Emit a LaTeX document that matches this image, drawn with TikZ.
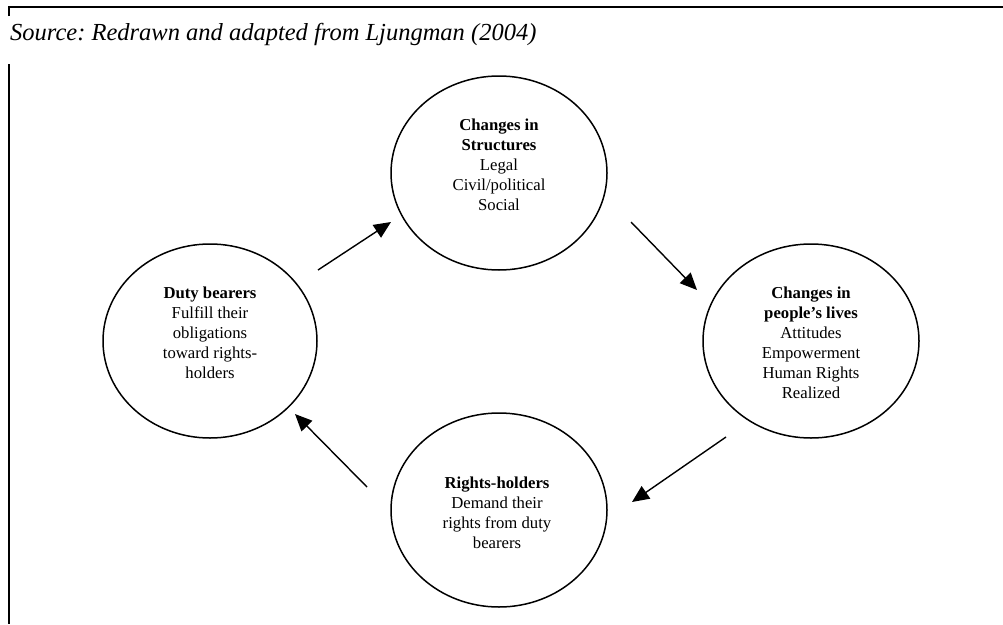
\documentclass[tikz,border=0pt]{standalone}
\usepackage{fontspec}
\setmainfont{Liberation Serif}
\usetikzlibrary{arrows.meta,shapes.geometric}
\tikzset{
  bub/.style={draw, ellipse, line width=1.5pt, inner sep=0pt, minimum width=216pt, minimum height=194pt},
  txt/.style={align=center, inner sep=0pt, font=\fontsize{16.7}{20}\selectfont},
  flow/.style={line width=1.4pt, -{Triangle[length=17pt,width=15pt]}},
  frame/.style={line width=2.2pt}
}
\begin{document}
\frenchspacing
\begin{tikzpicture}[x=1pt,y=-1pt]
\useasboundingbox (0,0) rectangle (1003,624);
\draw[frame] (9,16) -- (9,7) -- (1003,7);
\draw[frame] (9,64) -- (9,624);
\node[anchor=base west, inner sep=0pt, font=\fontsize{24.5}{28}\selectfont\itshape] (src) at (10,40) {Source: Redrawn and adapted from Ljungman (2004)};

\node[bub] (top) at (499,173) {};
\node[bub, minimum width=214pt] (left) at (210,341) {};
\node[bub] (right) at (811,341) {};
\node[bub] (bottom) at (499,510) {};

\node[txt] (toptxt) at (499,165) {\textbf{Changes in}\\\textbf{Structures}\\Legal\\Civil/political\\Social};
\node[txt] (lefttxt) at (210,333) {\textbf{Duty bearers}\\Fulfill their\\obligations\\toward rights-\\holders};
\node[txt] (righttxt) at (811,343) {\textbf{Changes in}\\\textbf{people’s lives}\\Attitudes\\Empowerment\\Human Rights\\Realized};
\node[txt] (bottomtxt) at (497,513) {\textbf{Rights-holders}\\Demand their\\rights from duty\\bearers};

\coordinate (a1s) at (318,270); \coordinate (a1e) at (391,222);
\coordinate (a2s) at (631,222); \coordinate (a2e) at (697,290);
\coordinate (a3s) at (726,437); \coordinate (a3e) at (632,502);
\coordinate (a4s) at (367,487); \coordinate (a4e) at (295,414);
\draw[flow] (a1s) -- (a1e);
\draw[flow] (a2s) -- (a2e);
\draw[flow] (a3s) -- (a3e);
\draw[flow] (a4s) -- (a4e);
\end{tikzpicture}
\end{document}
